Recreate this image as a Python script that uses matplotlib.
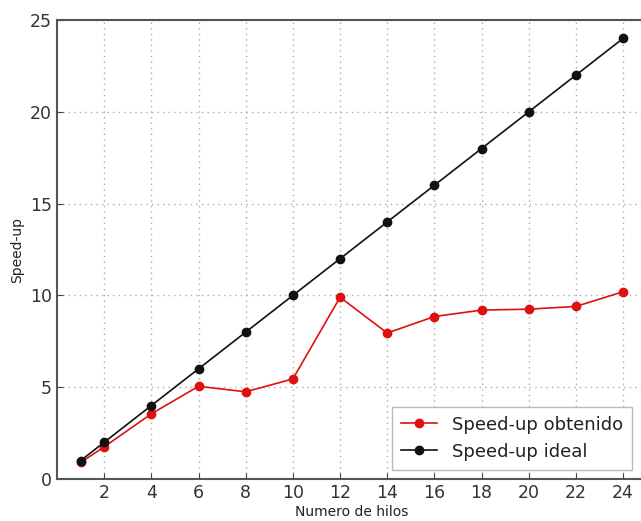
import matplotlib
matplotlib.use("Agg")
import matplotlib.pyplot as plt

hilos = [1, 2, 4, 6, 8, 10, 12, 14, 16, 18, 20, 22, 24]
speedup_obtenido = [0.9, 1.75, 3.55, 5.05, 4.75, 5.45, 9.9, 7.95, 8.85, 9.2, 9.25, 9.4, 10.2]
speedup_ideal = [1, 2, 4, 6, 8, 10, 12, 14, 16, 18, 20, 22, 24]
xticks = [2, 4, 6, 8, 10, 12, 14, 16, 18, 20, 22, 24]
yticks = [0, 5, 10, 15, 20, 25]

fig = plt.figure(figsize=(6.41, 5.21), dpi=100)
ax = fig.add_axes([0.0889, 0.0806, 0.920, 0.881])

ax.plot(hilos, speedup_obtenido, '-o', color='#dd1111', markeredgecolor='#dd1111',
        markersize=6, linewidth=1.2, label='Speed-up obtenido')
ax.plot(hilos, speedup_ideal, '-o', color='#111111', markersize=6, linewidth=1.2,
        label='Speed-up ideal')

ax.set_xlim(0, 25)
ax.set_ylim(0, 25)
ax.set_xticks(xticks)
ax.set_yticks(yticks)
ax.tick_params(direction='in', labelsize=12.5, color='#444444', labelcolor='#333333', length=4)
ax.grid(True, linestyle=(0, (1, 3)), color='#aaaaaa', linewidth=1)
for s in ax.spines.values():
    s.set_color('#555555')
    s.set_linewidth(1.5)

ax.set_xlabel('Numero de hilos', fontsize=10, labelpad=2, color='#222222')
ax.set_ylabel('Speed-up', fontsize=10, color='#222222')

leg = ax.legend(loc='lower right', bbox_to_anchor=(0.975, 0.02), borderaxespad=0,
                fontsize=13, fancybox=False, framealpha=1, handlelength=2, borderpad=0.5)
leg.get_frame().set_edgecolor('#bbbbbb')
for t in leg.get_texts():
    t.set_color('#222222')

fig.savefig('out.png', dpi=100)
